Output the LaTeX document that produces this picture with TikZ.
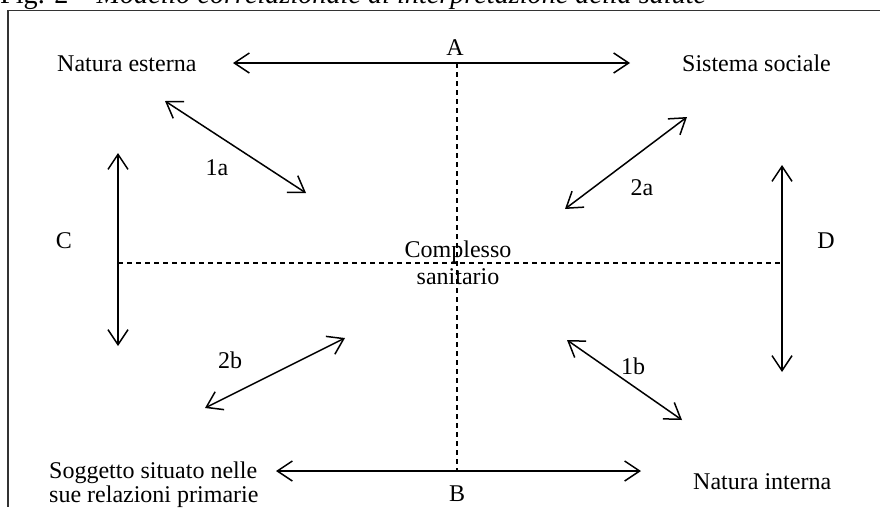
\documentclass[tikz,border=0pt]{standalone}
\usepackage{fontspec}
\setmainfont{Liberation Serif}
\usetikzlibrary{arrows.meta}
\begin{document}
\begin{tikzpicture}[x=1pt,y=-1pt,
  lbl/.style={inner sep=0pt,font=\fontsize{24}{28}\selectfont},
  dbl/.style={line width=1.5pt,{Straight Barb[length=15pt,width=20pt,line width=1.5pt]}-{Straight Barb[length=15pt,width=20pt,line width=1.5pt]}},
  dsh/.style={line width=1.5pt,dash pattern=on 5pt off 4pt},
  frame/.style={line width=1.3pt,black!80}]
\useasboundingbox (0,0) rectangle (880,507);
% caption (cut by the page top)
\node[lbl,anchor=base west,font=\fontsize{28.2}{32}\selectfont] (cap) at (0,3.5) {Fig. 2 -- \textit{Modello correlazionale di interpretazione della salute}};
\draw[frame] (880,10.5) -- (8,10.5) -- (8,507);
% labels
\node[lbl,anchor=base west] (ne) at (57,71) {Natura esterna};
\node[lbl,anchor=base west] (ss) at (682,71) {Sistema sociale};
\node[lbl,anchor=base] (A) at (455,55) {A};
\node[lbl,anchor=base] (C) at (64,248) {C};
\node[lbl,anchor=base] (D) at (826,248) {D};
\node[lbl,anchor=base] (l1a) at (217,175) {1a};
\node[lbl,anchor=base] (l2a) at (642,195) {2a};
\node[lbl,anchor=base] (l2b) at (230,368) {2b};
\node[lbl,anchor=base] (l1b) at (633,374) {1b};
\node[lbl,anchor=base] (cs1) at (458,257) {Complesso};
\node[lbl,anchor=base] (cs2) at (458,284) {sanitario};
\node[lbl,anchor=base west] (sg1) at (49,478) {Soggetto situato nelle};
\node[lbl,anchor=base west] (sg2) at (49,502) {sue relazioni primarie};
\node[lbl,anchor=base] (B) at (457,501) {B};
\node[lbl,anchor=base west] (ni) at (693,489) {Natura interna};
% coordinates
\coordinate (aL) at (233,63);
\coordinate (aR) at (630,63);
\coordinate (vt) at (457,63);
\coordinate (vb) at (457,471);
\coordinate (bL) at (276,471);
\coordinate (bR) at (641,471);
\coordinate (cT) at (118,153);
\coordinate (cB) at (118,346);
\coordinate (hl) at (118,263);
\coordinate (hr) at (782,263);
\coordinate (dT) at (782,165);
\coordinate (dB) at (782,372);
\coordinate (p1a) at (165,101);
\coordinate (q1a) at (306,193);
\coordinate (p2a) at (687,117);
\coordinate (q2a) at (565,209);
\coordinate (p2b) at (205,408);
\coordinate (q2b) at (345,338);
\coordinate (p1b) at (567,340);
\coordinate (q1b) at (682,420);
% dashed axes
\draw[dsh] (vt) -- (vb);
\draw[dsh] (hl) -- (hr);
% arrows
\draw[dbl] (aL) -- (aR);
\draw[dbl] (bL) -- (bR);
\draw[dbl] (cT) -- (cB);
\draw[dbl] (dT) -- (dB);
\draw[dbl] (p1a) -- (q1a);
\draw[dbl] (p2a) -- (q2a);
\draw[dbl] (p2b) -- (q2b);
\draw[dbl] (p1b) -- (q1b);
\end{tikzpicture}
\end{document}
